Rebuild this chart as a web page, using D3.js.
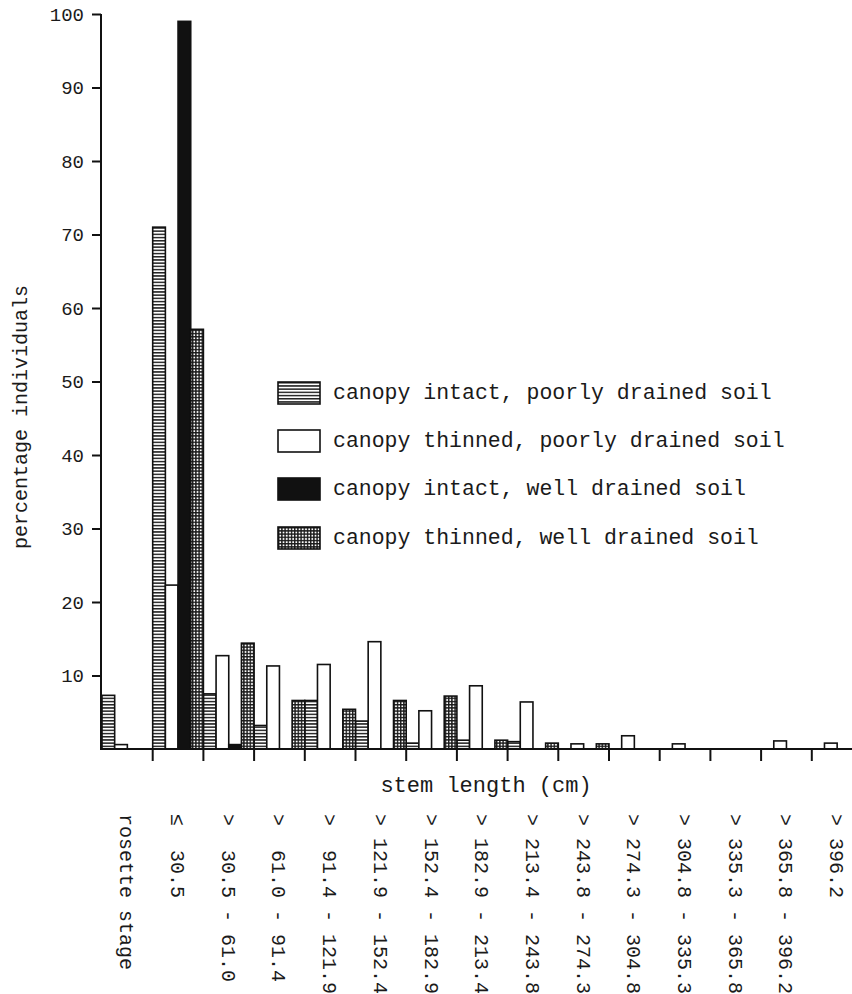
<!DOCTYPE html>
<meta charset="utf-8">
<style>
body { margin: 0; background: #fff; }
svg text {
  font-family: "Liberation Mono", "DejaVu Sans Mono", monospace;
  fill: #1a1a1a;
  white-space: pre;
}
.axis path, .axis line { stroke: #111; stroke-width: 2; }
.bar { stroke: #111; stroke-width: 1.6; }
</style>
<body>
<svg width="852" height="994"></svg>

<script src="https://d3js.org/d3.v7.min.js"></script>
<script>

// stem length classes (rotated labels under the axis)
var categories = [
  "rosette stage",
  "\u2264  30.5",
  ">  30.5 - 61.0",
  ">  61.0 - 91.4",
  ">  91.4 - 121.9",
  "> 121.9 - 152.4",
  "> 152.4 - 182.9",
  "> 182.9 - 213.4",
  "> 213.4 - 243.8",
  "> 243.8 - 274.3",
  "> 274.3 - 304.8",
  "> 304.8 - 335.3",
  "> 335.3 - 365.8",
  "> 365.8 - 396.2",
  "> 396.2"
];

var seriesNames = [
  "canopy intact, poorly drained soil",
  "canopy thinned, poorly drained soil",
  "canopy intact, well drained soil",
  "canopy thinned, well drained soil"
];

// percentage individuals
var intactPoor   = [7.3, 71.0, 7.5, 3.2, 6.6, 3.8, 0.8, 1.2, 1.0, 0, 0, 0, 0, 0, 0];
var thinnedPoor  = [0.6, 22.3, 12.7, 11.3, 11.5, 14.6, 5.2, 8.6, 6.4, 0.7, 1.8, 0.7, 0, 1.1, 0.8];
var intactWell   = [0, 99.0, 0.6, 0, 0, 0, 0, 0, 0, 0, 0, 0, 0, 0, 0];
var thinnedWell  = [0, 57.1, 14.4, 6.6, 5.4, 6.6, 7.2, 1.2, 0.8, 0.7, 0, 0, 0, 0, 0];

var yTicks = [10, 20, 30, 40, 50, 60, 70, 80, 90, 100];

var series = [intactPoor, thinnedPoor, intactWell, thinnedWell];
var fills = ["url(#stripes)", "#fff", "#111", "url(#grid)"];

var svg = d3.select("svg");

// patterns for the hatched bars
var defs = svg.append("defs");
var stripes = defs.append("pattern")
    .attr("id", "stripes")
    .attr("patternUnits", "userSpaceOnUse")
    .attr("width", 6).attr("height", 3.2);
stripes.append("rect").attr("width", 6).attr("height", 3.2).attr("fill", "#fff");
stripes.append("rect").attr("width", 6).attr("height", 1.5).attr("fill", "#222");

var grid = defs.append("pattern")
    .attr("id", "grid")
    .attr("patternUnits", "userSpaceOnUse")
    .attr("width", 3.2).attr("height", 3.2);
grid.append("rect").attr("width", 3.2).attr("height", 3.2).attr("fill", "#fff");
grid.append("rect").attr("width", 3.2).attr("height", 1.4).attr("fill", "#1a1a1a");
grid.append("rect").attr("width", 1.4).attr("height", 3.2).attr("fill", "#1a1a1a");

var x = d3.scaleBand()
    .domain(categories)
    .range([102, 862.5])
    .padding(0);

var xs = d3.scaleBand()
    .domain(d3.range(series.length))
    .range([0, x.bandwidth()])
    .padding(0);

var y = d3.scaleLinear()
    .domain([0, 100])
    .range([749, 14]);

// bars
var rows = [];
series.forEach(function(vals, s) {
  vals.forEach(function(v, i) {
    if (v > 0) rows.push({ s: s, cat: categories[i], value: v });
  });
});

svg.append("g")
  .selectAll("rect")
  .data(rows)
  .enter().append("rect")
    .attr("class", "bar")
    .attr("x", function(d) { return x(d.cat) + xs(d.s); })
    .attr("width", xs.bandwidth())
    .attr("y", function(d) { return y(d.value); })
    .attr("height", function(d) { return y(0) - y(d.value); })
    .attr("fill", function(d) { return fills[d.s]; });

// y axis
var yAxis = svg.append("g")
    .attr("class", "axis")
    .attr("transform", "translate(101,0)")
    .call(d3.axisLeft(y).tickValues(yTicks).tickSize(9).tickPadding(8).tickSizeOuter(0));
yAxis.select(".domain").attr("d", "M0," + y(100) + "V" + y(0));
yAxis.selectAll("text")
    .style("font-size", "19px")
    .attr("fill", "#1a1a1a");

svg.append("text")
    .attr("transform", "translate(27," + 417 + ") rotate(-90)")
    .attr("text-anchor", "middle")
    .style("font-size", "20px")
    .text("percentage individuals");

// x axis: ticks at the class boundaries
var xAxis = svg.append("g").attr("class", "axis");
xAxis.append("line")
    .attr("x1", 100).attr("x2", 852)
    .attr("y1", y(0)).attr("y2", y(0));
xAxis.selectAll(".tick")
  .data(categories.slice(1))
  .enter().append("line")
    .attr("x1", function(d) { return x(d); })
    .attr("x2", function(d) { return x(d); })
    .attr("y1", y(0))
    .attr("y2", y(0) + 12);

svg.append("text")
    .attr("x", 486)
    .attr("y", 792)
    .attr("text-anchor", "middle")
    .style("font-size", "22px")
    .text("stem length (cm)");

svg.append("g")
  .selectAll("text")
  .data(categories)
  .enter().append("text")
    .attr("transform", function(d) {
      return "translate(" + (x(d) + x.bandwidth() / 2) + ",814) rotate(90)";
    })
    .attr("dy", "0.35em")
    .style("font-size", "20px")
    .text(function(d) { return d; });

// legend
var legendY = [382, 430, 478, 527];
var legend = svg.append("g")
  .selectAll("g")
  .data(seriesNames)
  .enter().append("g")
    .attr("transform", function(d, i) { return "translate(278," + legendY[i] + ")"; });

legend.append("rect")
    .attr("class", "bar")
    .attr("width", 42)
    .attr("height", 22)
    .attr("fill", function(d, i) { return fills[i]; });

legend.append("text")
    .attr("x", 55)
    .attr("y", 17)
    .style("font-size", "21.5px")
    .text(function(d) { return d; });

</script>
</body>
